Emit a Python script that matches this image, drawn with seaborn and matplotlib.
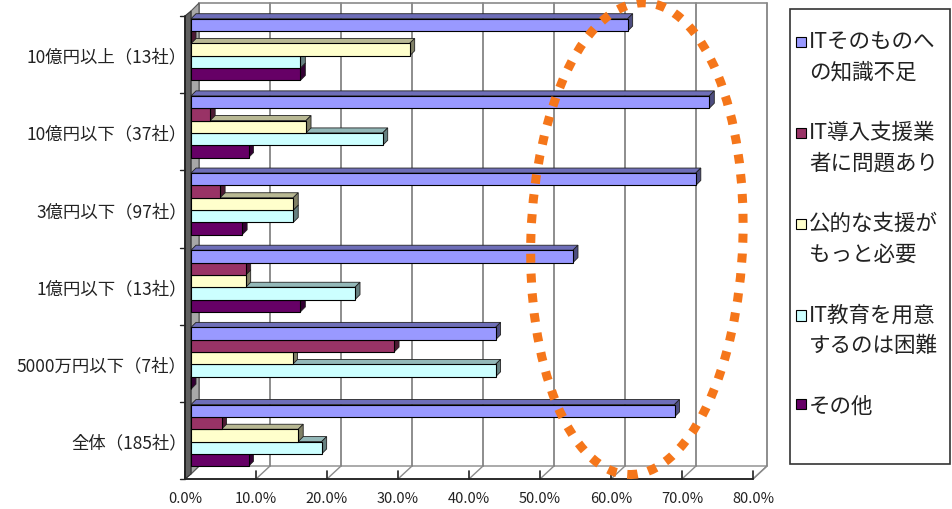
import numpy as np
import pandas as pd
import matplotlib
matplotlib.use("Agg")
import matplotlib.pyplot as plt
import matplotlib.transforms as mtransforms
from matplotlib.patches import Polygon, Ellipse, Rectangle, Patch
from matplotlib.legend_handler import HandlerPatch
from matplotlib.colors import to_rgb
import seaborn as sns

# data (percent of companies)
categories = ['10億円以上（13社）', '10億円以下（37社）', '3億円以下（97社）',
              '1億円以下（13社）', '5000万円以下（7社）', '全体（185社）']
reasons = ['ITそのものへ\nの知識不足', 'IT導入支援業\n者に問題あり', '公的な支援が\nもっと必要',
           'IT教育を用意\nするのは困難', 'その他']
it_knowledge = [61.5, 73.0, 71.1, 53.8, 42.9, 68.1]
vendor_issue = [0.0, 2.7, 4.1, 7.7, 28.6, 4.3]
public_support = [30.8, 16.2, 14.4, 7.7, 14.3, 15.1]
it_education = [15.4, 27.0, 14.4, 23.1, 42.9, 18.4]
other = [15.4, 8.1, 7.2, 15.4, 0.0, 8.1]
colors = ['#9999FF', '#993366', '#FFFFCC', '#CCFFFF', '#660066']
xticks = [0, 10, 20, 30, 40, 50, 60, 70, 80]

df = pd.DataFrame({
    'size': categories * 5,
    'reason': np.repeat(reasons, len(categories)),
    'value': it_knowledge + vendor_issue + public_support + it_education + other,
})

sns.set_style('white')
plt.rcParams['font.family'] = ['Noto Sans CJK JP', 'DejaVu Sans']
TXT = '#222222'

fig = plt.figure(figsize=(9.53, 5.10), dpi=100)
ax = fig.add_axes([191 / 953, 35 / 510, 568 / 953, 463 / 510])
ax.patch.set_alpha(0)

sns.barplot(data=df, x='value', y='size', hue='reason', order=categories, hue_order=reasons,
            orient='h', palette=colors, saturation=1, width=0.8, edgecolor='black',
            linewidth=0.8, errorbar=None, legend=False, ax=ax)

ax.set_xlim(0, 80)
ax.set_ylim(len(categories) - 0.5, -0.5)
for s in ax.spines.values():
    s.set_visible(False)
ax.set_xlabel('')
ax.set_ylabel('')
ax.grid(False)


def shift(pts, off):
    p = ax.transData.transform(np.asarray(pts, dtype=float)) + np.asarray(off)
    return ax.transData.inverted().transform(p)


FRONT = (-6, -5)
BACK = (8, 8)
BARP = (0, 0)
y0, y1 = -0.5, len(categories) - 0.5

# left wall (dark front strip + lighter back part)
lw_front = np.vstack([shift([(0, y0), (0, y1)], FRONT), shift([(0, y1), (0, y0)], BARP)])
lw_back = np.vstack([shift([(0, y0), (0, y1)], BARP), shift([(0, y1), (0, y0)], BACK)])
ax.add_patch(Polygon(lw_back, closed=True, fc='#a8a8a8', ec='#555555', lw=0.8, zorder=0.4, clip_on=False))
ax.add_patch(Polygon(lw_front, closed=True, fc='#606060', ec='#333333', lw=0.8, zorder=0.5, clip_on=False))

# floor
floor = np.vstack([shift([(0, y1), (80, y1)], FRONT), shift([(80, y1), (0, y1)], BACK)])
ax.add_patch(Polygon(floor, closed=True, fc='white', ec='#888888', lw=1.0, zorder=0.3, clip_on=False))

# back wall gridlines, floor lines, front ticks
for v in xticks:
    g = shift([(v, y1), (v, y0)], BACK)
    ax.plot(g[:, 0], g[:, 1], color='#7a7a7a', lw=1.2, zorder=0.35, clip_on=False)
    f = np.vstack([shift([(v, y1)], FRONT), shift([(v, y1)], BACK)])
    ax.plot(f[:, 0], f[:, 1], color='#8a8a8a', lw=1.0, zorder=0.35, clip_on=False)
    t = np.vstack([shift([(v, y1)], FRONT), shift([(v, y1)], (FRONT[0], FRONT[1] + 8))])
    ax.plot(t[:, 0], t[:, 1], color='#222222', lw=1.2, zorder=0.6, clip_on=False)
top = shift([(0, y0), (80, y0)], BACK)
ax.plot(top[:, 0], top[:, 1], color='#8a8a8a', lw=1.2, zorder=0.35, clip_on=False)
fe = shift([(0, y1), (80, y1)], FRONT)
ax.plot(fe[:, 0], fe[:, 1], color='#222222', lw=1.3, zorder=0.6, clip_on=False)
le = shift([(0, y0), (0, y1)], FRONT)
ax.plot(le[:, 0], le[:, 1], color='#222222', lw=1.3, zorder=0.6, clip_on=False)
for k in range(len(categories) + 1):
    b = np.vstack([shift([(0, k - 0.5)], (FRONT[0] - 5, FRONT[1])), shift([(0, k - 0.5)], FRONT)])
    ax.plot(b[:, 0], b[:, 1], color='#222222', lw=1.0, zorder=0.6, clip_on=False)

# 3D faces for each bar
D = (5, 5)
inv = ax.transData.inverted()
for p in list(ax.patches):
    if type(p) is not Rectangle:
        continue
    x0, y, w, h = p.get_x(), p.get_y(), p.get_width(), p.get_height()
    disp = ax.transData.transform([(x0, y), (x0 + w, y + h)])
    xl, xr = disp[:, 0].min(), disp[:, 0].max()
    yb, yt = disp[:, 1].min(), disp[:, 1].max()
    z = 3 + yt / 1000.0
    col = np.array(to_rgb(p.get_facecolor()))
    topf = inv.transform([(xl, yt), (xr, yt), (xr + D[0], yt + D[1]), (xl + D[0], yt + D[1])])
    endf = inv.transform([(xr, yb), (xr + D[0], yb + D[1]), (xr + D[0], yt + D[1]), (xr, yt)])
    ax.add_patch(Polygon(topf, closed=True, fc=col * 0.72, ec='#222222', lw=0.6, zorder=z, clip_on=False))
    ax.add_patch(Polygon(endf, closed=True, fc=col * 0.5, ec='#222222', lw=0.6, zorder=z, clip_on=False))
    p.set_zorder(z + 0.0005)
    p.set_clip_on(False)

# tick labels
ax.set_xticks(xticks)
ax.set_xticklabels([f'{v:.1f}%' for v in xticks])
ax.tick_params(axis='x', length=0, pad=12.5, labelsize=10.5, labelcolor=TXT)
ax.tick_params(axis='y', length=0, pad=3, labelsize=12.5, labelcolor=TXT)
for lab in ax.get_xticklabels():
    lab.set_transform(lab.get_transform() + mtransforms.ScaledTranslation(-6 / 100, 0, fig.dpi_scale_trans))
for lab in ax.get_yticklabels():
    lab.set_transform(lab.get_transform() + mtransforms.ScaledTranslation(0, -5 / 100, fig.dpi_scale_trans))

# orange dotted ellipse
c = ax.transData.transform((62.8, 2.45))
ell = Ellipse(c, 212, 472, angle=-2, transform=mtransforms.IdentityTransform(), fill=False,
              ec='#F5761A', lw=6.5, linestyle=(0, (1, 1.2)), zorder=20, clip_on=False)
ell.set_capstyle('butt')
ell.set_figure(fig)
fig.patches.append(ell)

# legend: square sits on the first line of each label
LEG_FS = 15.5
LINE_SP = 1.5
LINE_H = 30 * 72 / 100  # distance between the two lines, in points


def first_line_square(legend, orig_handle, xdescent, ydescent, width, height, fontsize):
    n = orig_handle.get_label().count('\n') + 1
    s = width
    yc = -ydescent + height / 2 + (n - 1) * LINE_H / 2
    return Rectangle((-xdescent, yc - s / 2), s, s)


handles = [Patch(fc=c_, ec='black', lw=0.8, label=r) for c_, r in zip(colors, reasons)]
leg = fig.legend(handles=handles, loc='upper left', bbox_to_anchor=(787 / 953, 1 - 22 / 510),
                 frameon=False, fontsize=LEG_FS, labelspacing=1.8, handlelength=0.48,
                 handleheight=0.48, handletextpad=0.15, labelcolor=TXT, borderaxespad=0,
                 handler_map={Patch: HandlerPatch(patch_func=first_line_square)})
for t in leg.get_texts():
    t.set_linespacing(LINE_SP)
fig.patches.append(Rectangle((790 / 953, 45 / 510), 160 / 953, 455 / 510, transform=fig.transFigure,
                             fill=False, ec='#333333', lw=1.2))

fig.savefig('out.png', dpi=100, facecolor='white')
